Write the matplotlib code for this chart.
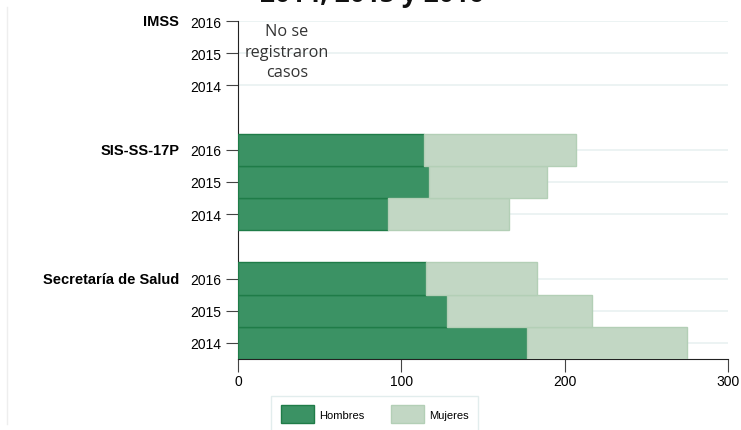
import numpy as np
import matplotlib.pyplot as plt
from matplotlib.lines import Line2D

# Data
groups = ["Secretaría de Salud", "SIS-SS-17P", "IMSS"]
years = ["2014", "2015", "2016"]
hombres = {
    "Secretaría de Salud": [177, 128, 115],
    "SIS-SS-17P": [92, 117, 114],
    "IMSS": [0, 0, 0],
}
mujeres = {
    "Secretaría de Salud": [98, 89, 68],
    "SIS-SS-17P": [74, 72, 93],
    "IMSS": [0, 0, 0],
}
x_ticks = [0, 100, 200, 300]

c_h = "#3b9264"
c_h_edge = "#1f7c48"
c_m = "#c2d7c4"
c_m_edge = "#b3cfb6"

fig = plt.figure(figsize=(7.41, 4.31), dpi=100)
ax = fig.add_axes([238 / 741, 1 - 360 / 431, 490 / 741, 338 / 431])

pos = []
labels = []
for gi, g in enumerate(groups):
    y = np.arange(3) + gi * 4
    pos.extend(y)
    labels.extend(years)
    h = np.array(hombres[g])
    m = np.array(mujeres[g])
    if h.sum() + m.sum() > 0:
        ax.barh(y, h, height=1.0, color=c_h, edgecolor=c_h_edge, linewidth=1, zorder=3)
        ax.barh(y, m, left=h, height=1.0, color=c_m, edgecolor=c_m_edge, linewidth=1, zorder=3)
    else:
        ax.text(30, y[1] + 0.05, "No se\nregistraron\ncasos", ha="center", va="center",
                fontsize=11.7, color="#333333", family="Open Sans", linespacing=1.4, zorder=4)
    ax.text(-0.12, (y[2] + 0.5) / 10.5, g, transform=ax.transAxes, ha="right", va="center",
            fontsize=10.5, fontweight="bold", family="Liberation Sans")

ax.set_yticks(pos)
ax.set_yticklabels(labels, fontsize=10, family="Liberation Sans")
ax.set_xticks(x_ticks)
ax.set_xticklabels([str(v) for v in x_ticks], fontsize=10, family="Liberation Sans")
ax.set_xlim(0, 300)
ax.set_ylim(-0.5, 10)

for yy in pos:
    ax.axhline(yy, color="#e9f1f1", linewidth=1.2, zorder=1)

for s in ["top", "right"]:
    ax.spines[s].set_visible(False)
ax.spines["left"].set_color("#222222")
ax.spines["bottom"].set_color("#222222")
ax.tick_params(axis="y", length=9, color="#444444", pad=3)
ax.tick_params(axis="x", length=9, color="#444444", pad=2)

# title partially cut off at top
fig.text(0.502, 1 - 2.5 / 431, "2014, 2015 y 2016", ha="center", va="baseline",
         fontsize=19, fontweight="bold", family="Open Sans", color="#111111")

# faint frame line on the left
fig.add_artist(Line2D([7 / 741, 7 / 741], [1 - 8 / 431, 1 - 425 / 431],
                      transform=fig.transFigure, color="#eeeeee", linewidth=1))

handles = [plt.Rectangle((0, 0), 1, 1, facecolor=c_h, edgecolor=c_h_edge),
           plt.Rectangle((0, 0), 1, 1, facecolor=c_m, edgecolor=c_m_edge)]
leg = fig.legend(handles, ["Hombres", "Mujeres"], loc="upper center",
                 bbox_to_anchor=(0.506, 1 - 397 / 431), ncol=2, fancybox=False,
                 prop={"family": "Liberation Sans", "size": 8},
                 handlelength=3.0, handleheight=2.0, handletextpad=0.45,
                 columnspacing=2.4, borderpad=0.85, borderaxespad=0, framealpha=1)
leg.get_frame().set_edgecolor("#e2eded")
leg.get_frame().set_linewidth(1)

fig.savefig("out.png", dpi=100)
